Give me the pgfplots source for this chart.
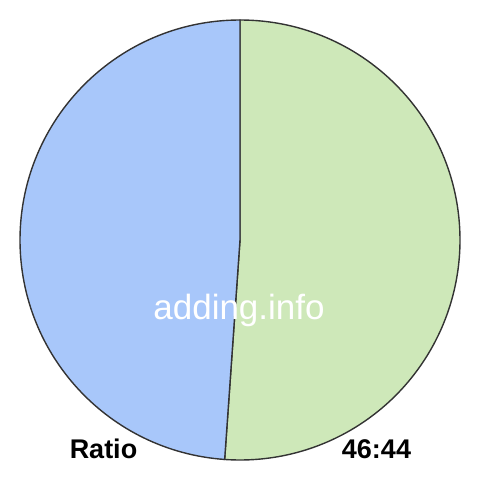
\documentclass[border=0pt]{standalone}
\usepackage{fontspec}
\setmainfont{Liberation Sans}
\usepackage{pgfplots}
\pgfplotsset{compat=1.18}

\definecolor{sliceblue}{HTML}{A8C7FA}
\definecolor{slicegreen}{HTML}{CEE8B9}
\definecolor{edge}{HTML}{333333}

% ratio values
\def\valA{46}
\def\valB{44}
\pgfmathsetmacro{\angA}{360*(\valA/(\valA+\valB))}
\pgfmathsetmacro{\endA}{90-\angA}
\pgfmathsetmacro{\endB}{\endA+360}

\begin{document}
\begin{tikzpicture}
\begin{axis}[
  hide axis,
  scale only axis,
  width=480pt, height=480pt,
  xmin=0, xmax=480, ymin=0, ymax=480,
  clip=false,
]
% keep the full 480x480 canvas
\path (axis cs:0,0) rectangle (axis cs:480,480);
% green slice (46), clockwise from the top
\filldraw[fill=slicegreen, draw=edge, line width=1.4pt]
  (axis cs:240,240) -- (axis cs:240,460) arc[start angle=90, end angle=\endA, radius=220pt] -- cycle;
% blue slice (44)
\filldraw[fill=sliceblue, draw=edge, line width=1.4pt]
  (axis cs:240,240) -- (axis cs:240,460) arc[start angle=90, end angle=\endB, radius=220pt] -- cycle;
\node[anchor=base, text=white, font=\fontsize{35}{35}\selectfont] at (axis cs:239,160) {adding.info};
\node[anchor=base, font=\bfseries\fontsize{27}{27}\selectfont] at (axis cs:103.5,21) {Ratio};
\node[anchor=base, font=\bfseries\fontsize{27}{27}\selectfont] at (axis cs:376.5,21) {46:44};
\end{axis}
\end{tikzpicture}
\end{document}
